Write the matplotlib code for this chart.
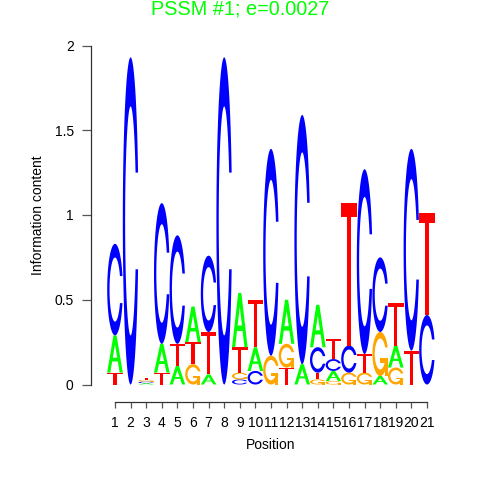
import numpy as np
import matplotlib
matplotlib.use("Agg")
import matplotlib.pyplot as plt
from matplotlib.patches import Polygon

plt.rcParams['font.family'] = ['Liberation Sans', 'DejaVu Sans']

positions = list(range(1, 22))
A = [0.22, 0.0, 0.008, 0.17, 0.11, 0.21, 0.06, 0.0, 0.32, 0.14, 0.0, 0.26, 0.12, 0.25, 0.06, 0.0, 0.0, 0.05, 0.13, 0.0, 0.0]
C = [0.54, 1.93, 0.009, 0.83, 0.64, 0.0, 0.45, 1.93, 0.03, 0.08, 1.22, 0.0, 1.47, 0.15, 0.07, 0.16, 1.09, 0.44, 0.0, 1.19, 0.41]
G = [0.0, 0.0, 0.010, 0.0, 0.0, 0.12, 0.0, 0.0, 0.04, 0.0, 0.17, 0.14, 0.0, 0.03, 0.02, 0.07, 0.07, 0.26, 0.10, 0.0, 0.0]
T = [0.07, 0.0, 0.012, 0.07, 0.13, 0.13, 0.25, 0.0, 0.15, 0.28, 0.0, 0.10, 0.0, 0.04, 0.12, 0.84, 0.11, 0.0, 0.25, 0.20, 0.60]
ytick_vals = [0, 0.5, 1, 1.5, 2]
ytick_labels = ['0', '0.5', '1', '1.5', '2']
title = "PSSM #1; e=0.0027"

GREEN = '#00FF00'
BLUE = '#0000FF'
ORANGE = '#FFA500'
RED = '#FF0000'


def c_shape():
    a1 = np.linspace(0.3 + np.pi / 2, np.pi, 100)
    a2 = np.linspace(np.pi, 1.5 * np.pi, 100)
    xl1 = 0.5 + 0.5 * np.sin(a1); yl1 = 0.5 + 0.5 * np.cos(a1)
    xl2 = 0.5 + 0.5 * np.sin(a2); yl2 = 0.5 + 0.5 * np.cos(a2)
    xl = np.concatenate([xl1, xl2]); yl = np.concatenate([yl1, yl2])
    x = np.concatenate([xl, xl[::-1]]); y = np.concatenate([yl, 1 - yl[::-1]])
    xi1 = 0.5 + 0.35 * np.sin(a1); yi1 = 0.5 + 0.35 * np.cos(a1)
    m = yi1 <= yl1.max()
    xi1 = xi1[m]; yi1 = yi1[m]
    yi1[0] = yl1.max()
    xi2 = 0.5 + 0.35 * np.sin(a2); yi2 = 0.5 + 0.35 * np.cos(a2)
    xi = np.concatenate([xi1, xi2]); yi = np.concatenate([yi1, yi2])
    x1 = np.concatenate([xi, xi[::-1]]); y1 = np.concatenate([yi, 1 - yi[::-1]])
    x = np.concatenate([x, x1[::-1]]); y = np.concatenate([y, y1[::-1]])
    return x, y, xl1.max()


def letter_polys(ch):
    if ch == 'A':
        x = np.array([0, 4, 6, 10, 8, 6.8, 3.2, 2, 0]) / 10
        y = np.array([0, 10, 10, 0, 0, 3, 3, 0, 0]) / 10
        hx = np.array([3.6, 5, 6.4, 3.6]) / 10
        hy = np.array([4, 7.5, 4, 4]) / 10
        return [(x, y, GREEN), (hx, hy, 'white')]
    if ch == 'T':
        x = np.array([0, 10, 10, 6, 6, 4, 4, 0]) / 10
        y = np.array([10, 10, 9, 9, 0, 0, 9, 9]) / 10
        return [(x, y, RED)]
    if ch == 'C':
        x, y, _ = c_shape()
        return [(x, y, BLUE)]
    if ch == 'G':
        x, y, r1 = c_shape()
        h1 = 0.4
        xa = np.array([r1, 0.5, 0.5, r1 - 0.2, r1 - 0.2, r1, r1])
        ya = np.array([h1, h1, h1 - 0.1, h1 - 0.1, 0, 0, h1])
        return [(x, y, ORANGE), (xa, ya, ORANGE)]


fig = plt.figure(figsize=(4.8, 4.8), dpi=100)
W = H = 480.0
x0px, dx = 115.0, 15.6
y0px, dy = 384.5, 169.5
ax = fig.add_axes([(x0px - 0.5 * dx) / W, (H - y0px) / H, 21 * dx / W, 2 * dy / H])
ax.set_xlim(0.5, 21.5)
ax.set_ylim(0, 2)

wt = 1.0
for i, p in enumerate(positions):
    heights = {'A': A[i], 'C': C[i], 'G': G[i], 'T': T[i]}
    order = sorted(heights.items(), key=lambda kv: kv[1])
    base = 0.0
    for ch, h in order:
        if h <= 0:
            continue
        for lx, ly, col in letter_polys(ch):
            xs = p - wt / 2 + wt * lx
            ys = base + h * ly
            ax.add_patch(Polygon(np.column_stack([xs, ys]), closed=True,
                                 facecolor=col, edgecolor='none', clip_on=False))
        base += h

for s in ['top', 'right']:
    ax.spines[s].set_visible(False)
ax.spines['left'].set_position(('outward', (x0px - 0.5 * dx - 91) * 0.72))
ax.spines['bottom'].set_position(('outward', (402 - y0px) * 0.72))
ax.spines['left'].set_bounds(0, 2)
ax.spines['bottom'].set_bounds(1, 21)
for s in ['left', 'bottom']:
    ax.spines[s].set_color('#333333')
    ax.spines[s].set_linewidth(0.9)

ax.set_xticks(positions)
ax.set_xticklabels([str(p) for p in positions])
ax.set_yticks(ytick_vals)
ax.set_yticklabels(ytick_labels)
ax.tick_params(axis='y', length=6.5, width=0.9, color='#555555', pad=6, labelsize=10)
ax.tick_params(axis='x', length=4.3, width=0.9, color='#555555', pad=6, labelsize=10)

fig.text(240 / W, 1 - 9 / H, title, color=GREEN, fontsize=14.3, ha='center', va='center')
fig.text(38 / W, 1 - 215 / H, 'Information content', rotation=90, fontsize=10, ha='center', va='center')
fig.text(271 / W, 1 - 445 / H, 'Position', fontsize=10, ha='center', va='center')

fig.savefig('out.png', dpi=100)
